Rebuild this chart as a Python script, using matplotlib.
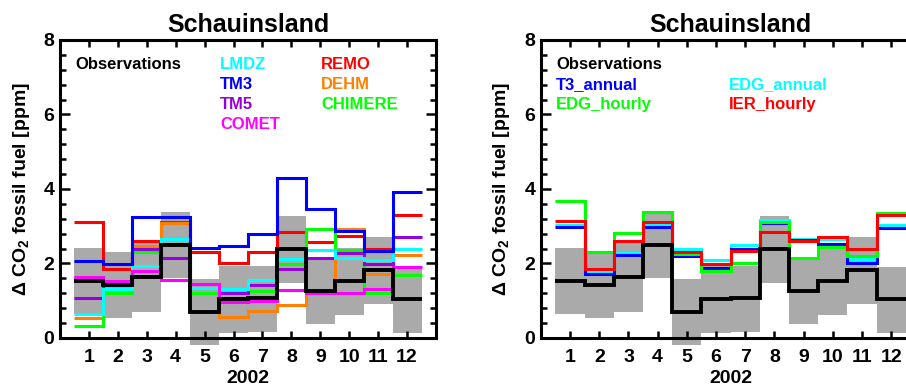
import numpy as np
import matplotlib
matplotlib.use("Agg")
import matplotlib.pyplot as plt
from matplotlib.ticker import MultipleLocator

plt.rcParams['font.family'] = ['Liberation Sans', 'DejaVu Sans']
plt.rcParams['font.weight'] = 'bold'
plt.rcParams['axes.titleweight'] = 'bold'
plt.rcParams['axes.labelweight'] = 'bold'
plt.rcParams['mathtext.fontset'] = 'custom'
plt.rcParams['mathtext.rm'] = 'Liberation Sans:bold'
plt.rcParams['mathtext.it'] = 'Liberation Sans:bold'
plt.rcParams['mathtext.bf'] = 'Liberation Sans:bold'

months = np.arange(1, 13)
month_labels = [str(m) for m in months]

# observations and their uncertainty band
obs = [1.54, 1.42, 1.63, 2.49, 0.69, 1.05, 1.06, 2.38, 1.27, 1.53, 1.82, 1.04]
band_lo = [0.64, 0.53, 0.71, 1.61, -0.20, 0.14, 0.15, 1.48, 0.37, 0.63, 0.91, 0.14]
band_hi = [2.42, 2.31, 2.55, 3.39, 1.58, 1.94, 1.94, 3.27, 2.09, 2.42, 2.70, 1.91]

# left panel: transport models
lmdz = [0.64, 1.31, 1.93, 2.65, 1.33, 1.31, 1.55, 2.13, 2.35, 2.14, 2.09, 2.38]
tm3 = [2.06, 1.98, 3.24, 3.25, 2.42, 2.47, 2.78, 4.30, 3.45, 2.88, 2.33, 3.91]
tm5 = [1.08, 1.42, 2.38, 2.16, 1.33, 1.20, 1.41, 1.85, 2.16, 2.27, 1.98, 2.70]
comet = [1.63, 1.53, 1.80, 1.55, 1.44, 0.97, 0.99, 1.29, 1.20, 1.20, 1.31, 1.90]
remo = [3.12, 1.84, 2.60, 3.12, 2.31, 2.02, 2.31, 2.85, 2.58, 2.73, 2.38, 3.30]
dehm = [0.54, 1.25, 2.47, 3.10, 1.22, 0.55, 0.72, 0.88, 1.20, 2.93, 1.72, 2.22]
chimere = [0.32, 1.20, 2.31, 2.65, 1.22, 1.22, 1.27, 1.98, 2.93, 2.36, 1.20, 1.69]

# right panel: emission inventories
t3_annual = [2.97, 1.72, 2.23, 2.98, 2.20, 1.87, 2.40, 3.09, 2.63, 2.52, 2.02, 2.94]
edg_annual = [3.03, 1.77, 2.29, 3.03, 2.38, 2.09, 2.49, 3.16, 2.67, 2.65, 2.11, 3.03]
edg_hourly = [3.68, 2.31, 2.82, 3.39, 2.25, 1.80, 2.00, 3.12, 2.14, 2.43, 2.21, 3.36]
ier_hourly = [3.14, 1.84, 2.61, 3.12, 2.31, 1.98, 2.34, 2.85, 2.61, 2.72, 2.38, 3.30]

left_series = [("REMO", remo, "#FF0000"), ("DEHM", dehm, "#FF8000"),
               ("CHIMERE", chimere, "#00FF00"), ("TM5", tm5, "#9600DC"),
               ("LMDZ", lmdz, "#00FFFF"), ("TM3", tm3, "#0000FF"),
               ("COMET", comet, "#FF00FF")]
right_series = [("EDG_annual", edg_annual, "#00FFFF"), ("T3_annual", t3_annual, "#0000FF"),
                ("EDG_hourly", edg_hourly, "#00FF00"), ("IER_hourly", ier_hourly, "#FF0000")]

left_labels = [("Observations", "black", 0.04, 0), ("LMDZ", "#00FFFF", 0.426, 0),
               ("TM3", "#0000FF", 0.426, 1), ("TM5", "#9600DC", 0.426, 2),
               ("COMET", "#FF00FF", 0.426, 3), ("REMO", "#FF0000", 0.694, 0),
               ("DEHM", "#FF8000", 0.694, 1), ("CHIMERE", "#00FF00", 0.694, 2)]
right_labels = [("Observations", "black", 0.04, 0), ("T3_annual", "#0000FF", 0.04, 1),
                ("EDG_hourly", "#00FF00", 0.04, 2), ("EDG_annual", "#00FFFF", 0.495, 1),
                ("IER_hourly", "#FF0000", 0.495, 2)]

fig = plt.figure(figsize=(9.06, 3.86), dpi=100)
ax1 = fig.add_axes([0.0662, 0.1244, 0.415, 0.772])
ax2 = fig.add_axes([0.597, 0.1244, 0.419, 0.772])

edges = np.arange(0.5, 13.0, 1.0)
lo = np.array(band_lo)
hi = np.array(band_hi)


def draw(ax, series, labels):
    ax.bar(months, hi - lo, bottom=lo, width=1.0, color="#aaaaaa",
           linewidth=0, clip_on=False, zorder=1)
    for name, vals, col in series:
        ax.stairs(vals, edges, color=col, linewidth=2.2, baseline=None, zorder=2)
    ax.stairs(obs, edges, color="black", linewidth=2.8, baseline=None, zorder=3)
    ax.set_xlim(0, 13)
    ax.set_ylim(0, 8)
    ax.set_xticks(months)
    ax.set_xticklabels(month_labels)
    ax.set_yticks([0, 2, 4, 6, 8])
    ax.yaxis.set_minor_locator(MultipleLocator(0.4))
    ax.tick_params(which="both", direction="in", top=True, right=True,
                   labelsize=14, width=1.8)
    ax.tick_params(axis="y", which="major", length=7, pad=4)
    ax.tick_params(axis="y", which="minor", length=4)
    ax.tick_params(axis="x", which="major", length=5, pad=8)
    for s in ax.spines.values():
        s.set_linewidth(2.2)
        s.set_zorder(5)
    ax.set_xlabel("2002", fontsize=14, labelpad=3)
    ax.set_ylabel("Δ CO$_2$ fossil fuel [ppm]", fontsize=14)
    ax.yaxis.set_label_coords(-0.075, 0.5)
    ax.set_title("Schauinsland", fontsize=18, pad=6)
    for text, col, xf, row in labels:
        ax.text(xf, 0.919 - row * 0.067, text, color=col, fontsize=12,
                va="center", ha="left", transform=ax.transAxes)


draw(ax1, left_series, left_labels)
draw(ax2, right_series, right_labels)

fig.savefig("out.png", dpi=100)
